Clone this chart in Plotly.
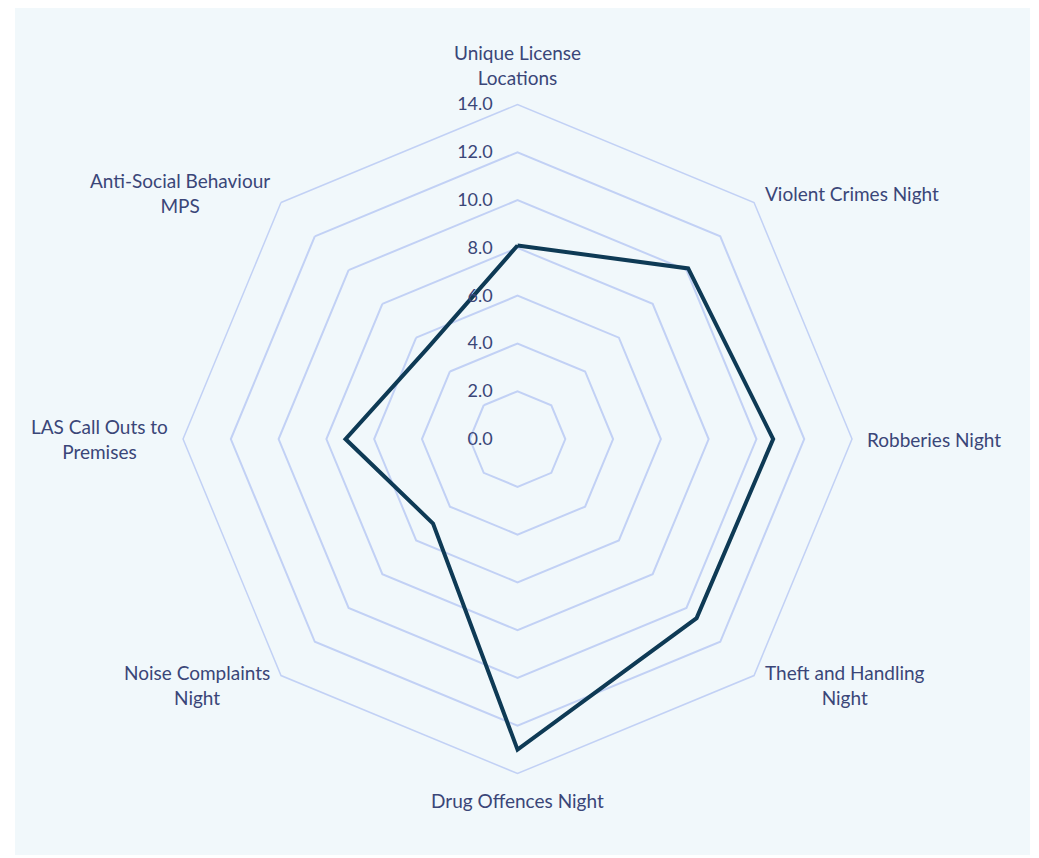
import numpy as np
import plotly.graph_objects as go

categories = [
    "Unique License Locations",
    "Violent Crimes Night",
    "Robberies Night",
    "Theft and Handling Night",
    "Drug Offences Night",
    "Noise Complaints Night",
    "LAS Call Outs to Premises",
    "Anti-Social Behaviour MPS",
]
values = [8.1, 10.1, 10.7, 10.6, 13.0, 5.0, 7.2, 5.35]
radial_ticks = [0, 2, 4, 6, 8, 10, 12, 14]

# display text for the spoke labels (wrapped like the original)
label_text = [
    "Unique License<br>Locations",
    "Violent Crimes Night",
    "Robberies Night",
    "Theft and Handling<br>Night",
    "Drug Offences Night",
    "Noise Complaints<br>Night",
    "LAS Call Outs to<br>Premises",
    "Anti-Social Behaviour<br>MPS",
]

TEXT = "#3a4678"
GRID = "#c2d1f5"
BG = "#f1f8fb"
CLEAR = "rgba(0,0,0,0)"

W, H = 1039, 858
MARGIN = dict(l=7, r=17, t=0, b=11)
DOM_X = [0.1655, 0.8247]
DOM_Y = [0.0962, 0.8860]

fig = go.Figure()

fig.add_trace(go.Scatterpolar(
    r=values + values[:1],
    theta=categories + categories[:1],
    mode="lines",
    line=dict(color="#0e3a55", width=4),
    showlegend=False,
    hoverinfo="skip",
))

# Excel-style spoke labels: placed just outside the outer ring, centred text
plot_w = W - MARGIN["l"] - MARGIN["r"]
plot_h = H - MARGIN["t"] - MARGIN["b"]
cx, cy = sum(DOM_X) / 2, sum(DOM_Y) / 2
ring_px = (DOM_X[1] - DOM_X[0]) * plot_w / 2
label_px = ring_px + 13
annotations = []
for i, txt in enumerate(label_text):
    ang = np.deg2rad(90 - i * 360 / len(label_text))
    c, s = np.cos(ang), np.sin(ang)
    annotations.append(dict(
        x=cx + label_px * c / plot_w,
        y=cy + label_px * s / plot_h,
        xref="paper", yref="paper",
        text=txt, showarrow=False, align="center",
        xanchor="left" if c > 0.1 else ("right" if c < -0.1 else "center"),
        yanchor="bottom" if s > 0.9 else ("top" if s < -0.9 else "middle"),
        font=dict(size=19, color=TEXT),
    ))

fig.update_layout(
    width=W,
    height=H,
    paper_bgcolor="white",
    margin=MARGIN,
    font=dict(family="Lato, Open Sans, sans-serif", size=19, color=TEXT),
    shapes=[dict(type="rect", xref="paper", yref="paper", x0=0, x1=1, y0=0, y1=1,
                 fillcolor=BG, line=dict(width=0), layer="below")],
    annotations=annotations,
    polar=dict(
        domain=dict(x=DOM_X, y=DOM_Y),
        bgcolor=BG,
        gridshape="linear",
        radialaxis=dict(
            range=[0, 14],
            tickvals=radial_ticks,
            tickformat=".1f",
            angle=90,
            tickangle=90,
            side="counterclockwise",
            showline=False,
            ticks="outside",
            ticklen=18,
            tickcolor=CLEAR,
            gridcolor=GRID,
            gridwidth=1.5,
            tickfont=dict(size=18, color=TEXT),
        ),
        angularaxis=dict(
            direction="clockwise",
            rotation=90,
            showticklabels=False,
            showgrid=False,
            showline=True,
            linecolor=GRID,
            linewidth=1.5,
            ticks="",
        ),
    ),
)

fig.write_html("out.html")
